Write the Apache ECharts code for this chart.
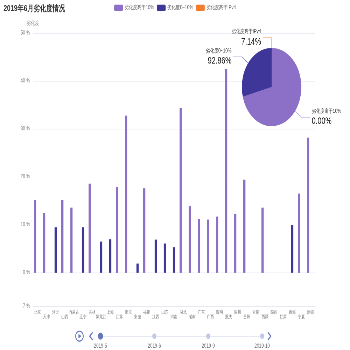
<!DOCTYPE html>
<html><head><meta charset="utf-8">
<script src="https://cdn.jsdelivr.net/npm/echarts@6/dist/echarts.min.js"></script>
<style>
html,body{margin:0;padding:0;overflow:hidden;background:#fff;}
#wrap{width:350px;height:350px;overflow:hidden;position:relative;}
#chart{width:1000px;height:760px;transform:scale(0.35,0.4605);transform-origin:0 0;}
</style></head>
<body><div id="wrap"><div id="chart"></div></div>
<script>
const titleText = '2019年6月劣化度情况';
const provinces = ['北京','天津','河北','山西','内蒙古','辽宁','吉林','黑龙江','上海','江苏','浙江','安徽','福建','江西','山东','河南','湖北','湖南','广东','广西','海南','重庆','四川','贵州','云南','西藏','陕西','甘肃','青海','宁夏','新疆'];
const seriesNames = ['劣化度高于10%', '劣化度0~10%', '劣化度高于IPv4'];
const highValues = [15.2,12.5,0,15.2,13.6,0,18.6,0,0,17.9,32.8,0,17.6,0,0,0,34.4,13.9,11.2,11.1,11.7,42.5,12.3,19.4,0,13.6,0,0,0,16.5,28.2];
const midValues  = [0,0,9.5,0,0,9.5,0,6.5,7.0,0,0,1.9,0,6.9,6.1,5.3,0,0,0,0,0,0,0,0,0,0,0,0,10.0,0,0];
const ipv4Values = [0,0,0,0,0,0,0,0,0,0,0,0,0,0,0,0,0,0,0,0,0,0,0,0,0,0,0,0,0,0,0];
const pieValues = [22, 9, 0];
const pieLabels = ['0.00%', '92.86%', '7.14%'];
const timelineLabels = ['2019-5', '2019-6', '2019-9', '2019-10'];
const yMin = -7, yMax = 50;

const colors = ['#8c6fc6', '#3e3799', '#f47c2c'];
const chart = echarts.init(document.getElementById('chart'), null, {renderer: 'canvas'});
const option = {
  baseOption: {
    color: colors,
    timeline: {
      axisType: 'category',
      data: timelineLabels,
      currentIndex: 0,
      autoPlay: false,
      left: '20%', right: '20%', top: 703, height: 40
    },
    title: { left: 5, top: 5, textStyle: { fontSize: 18, fontWeight: 'bold', color: '#333' } },
    legend: { left: 'center', top: 5, data: seriesNames, textStyle: { fontSize: 12, color: '#555' } },
    grid: { left: 94, right: 100, top: 72, bottom: 95, containLabel: false },
    xAxis: {
      type: 'category',
      data: provinces,
      axisLine: { onZero: true, lineStyle: { color: '#c8c8d0' } },
      axisTick: { lineStyle: { color: '#b0b0b8' } },
      axisLabel: {
        interval: 0, fontSize: 10, color: '#777', margin: 8,
        formatter: (v, i) => (i % 2 ? '\n' + v : v)
      }
    },
    yAxis: {
      type: 'value',
      name: '劣化度',
      nameTextStyle: { color: '#777', fontSize: 12 },
      min: yMin, max: yMax,
      axisLabel: { formatter: '{value} %', color: '#777', fontSize: 12 },
      splitLine: { lineStyle: { color: '#e6e8f2' } }
    },
    series: [
      { type: 'bar', name: seriesNames[0] },
      { type: 'bar', name: seriesNames[1] },
      { type: 'bar', name: seriesNames[2] },
      {
        type: 'pie', name: '劣化度占比',
        center: [776, 189], radius: 85,
        label: {
          formatter: p => '{n|' + p.name + '}\n{v|' + pieLabels[p.dataIndex] + '}',
          rich: {
            n: { fontSize: 12, color: '#333', lineHeight: 18 },
            v: { fontSize: 20, color: '#111', lineHeight: 26 }
          }
        },
        labelLine: { length: 22, length2: 25 }
      }
    ]
  },
  options: [
    {
      title: { text: titleText },
      series: [
        { data: highValues },
        { data: midValues },
        { data: ipv4Values },
        { data: seriesNames.map((n, i) => ({ name: n, value: pieValues[i] })) }
      ]
    }
  ]
};
chart.setOption(option);
</script>
</body></html>
